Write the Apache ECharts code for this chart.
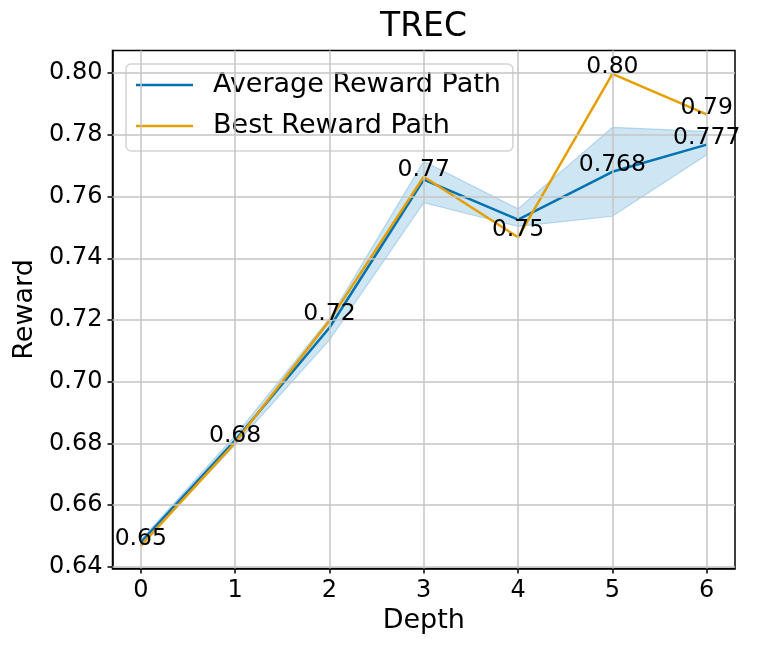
<!DOCTYPE html>
<html>
<head>
<meta charset="utf-8">
<script src="https://cdn.jsdelivr.net/npm/echarts@6/dist/echarts.min.js"></script>
<style>html,body{margin:0;padding:0;background:#fff}#c{width:761px;height:653px}</style>
</head>
<body>
<div id="c"></div>
<script>
var depths = [0, 1, 2, 3, 4, 5, 6];
var avgReward = [0.648, 0.681, 0.7175, 0.7655, 0.7525, 0.768, 0.7768];
var bestReward = [0.6468, 0.6803, 0.7198, 0.7664, 0.7468, 0.7997, 0.7866];
var bandUpper = [0.6488, 0.6825, 0.7205, 0.7714, 0.7560, 0.7824, 0.7811];
var bandLower = [0.6472, 0.6795, 0.7135, 0.7580, 0.7503, 0.7536, 0.7735];
var avgLabelDepths = [5, 6];
var xTicks = [0, 1, 2, 3, 4, 5, 6];
var yTicks = [0.64, 0.66, 0.68, 0.70, 0.72, 0.74, 0.76, 0.78, 0.80];

var FONT = 'DejaVu Sans';
function pairs(xs, ys) { return xs.map(function (x, i) { return [x, ys[i]]; }); }

var gridLines = xTicks.map(function (v) { return { xAxis: v }; })
  .concat(yTicks.map(function (v) { return { yAxis: v }; }));

var bestLabelData = depths.map(function (d, i) { return { value: [d, bestReward[i]], txt: bestReward[i].toFixed(2) }; });
var avgLabelData = avgLabelDepths.map(function (d) { var i = depths.indexOf(d); return { value: [d, avgReward[i]], txt: avgReward[i].toFixed(3) }; });

var labelCfg = {
  show: true, position: 'top', distance: 0, offset: [0, 5],
  fontFamily: FONT, fontSize: 23.5, color: '#000', opacity: 1, lineHeight: 24,
  formatter: function (p) { return p.data.txt; }
};

var bandData = depths.map(function (d, i) { return [d, bandLower[i], bandUpper[i]]; });

function renderBand(params, api) {
  if (params.dataIndex !== 0) return null;
  var pts = [];
  for (var i = 0; i < depths.length; i++) pts.push(api.coord([depths[i], bandUpper[i]]));
  for (var j = depths.length - 1; j >= 0; j--) pts.push(api.coord([depths[j], bandLower[j]]));
  return {
    type: 'polygon',
    shape: { points: pts },
    style: { fill: 'rgba(60,150,210,0.25)', stroke: 'rgba(60,150,210,0.3)', lineWidth: 1.2 },
    silent: true
  };
}

var chart = echarts.init(document.getElementById('c'), null, { renderer: 'canvas' });
chart.setOption({
  animation: false,
  backgroundColor: '#fff',
  title: {
    text: 'TREC', left: 380, top: 11, padding: 0,
    textStyle: { fontFamily: FONT, fontSize: 33, fontWeight: 'normal', color: '#000', lineHeight: 33 }
  },
  legend: {
    data: ['Average Reward Path', 'Best Reward Path'],
    orient: 'vertical', left: 126, top: 64,
    icon: 'rect', itemWidth: 57, itemHeight: 2.5, itemGap: 11,
    padding: [6, 12, 10, 10],
    backgroundColor: 'rgba(255,255,255,0.8)',
    borderColor: '#d4d4d4', borderWidth: 1.5, borderRadius: 5,
    textStyle: { fontFamily: FONT, fontSize: 27, color: '#000', lineHeight: 30, padding: [0, 0, 0, 15] }
  },
  grid: {
    left: 112.5, right: 26, top: 50.5, bottom: 84.5,
    show: true, borderColor: '#000', borderWidth: 1.5, backgroundColor: 'transparent',
    containLabel: false, outerBoundsMode: 'none'
  },
  xAxis: {
    type: 'value', min: -0.3, max: 6.3,
    name: 'Depth', nameLocation: 'middle', nameGap: 36,
    nameTextStyle: { fontFamily: FONT, fontSize: 27, color: '#000', lineHeight: 27 },
    axisLine: { show: true, onZero: false, lineStyle: { color: '#000', width: 1.5 } },
    axisTick: { show: true, customValues: xTicks, length: 5, lineStyle: { color: '#000', width: 1.5 } },
    axisLabel: { customValues: xTicks, margin: 10.5, fontFamily: FONT, fontSize: 24, color: '#000', lineHeight: 24,
      formatter: function (v) { return String(v); } },
    splitLine: { show: false }
  },
  yAxis: {
    type: 'value', min: 0.6395, max: 0.8073,
    name: 'Reward', nameLocation: 'middle', nameGap: 71, nameRotate: 90,
    nameTextStyle: { fontFamily: FONT, fontSize: 27, color: '#000', lineHeight: 27 },
    axisLine: { show: true, onZero: false, lineStyle: { color: '#000', width: 1.5 } },
    axisTick: { show: true, customValues: yTicks, length: 5, lineStyle: { color: '#000', width: 1.5 } },
    axisLabel: { customValues: yTicks, margin: 10, fontFamily: FONT, fontSize: 24, color: '#000', lineHeight: 24,
      formatter: function (v) { return v.toFixed(2); } },
    splitLine: { show: false }
  },
  series: [
    {
      name: 'band', type: 'custom', data: bandData, z: 1, silent: true,
      encode: { x: 0, y: [1, 2] },
      renderItem: renderBand
    },
    {
      name: 'gridlines', type: 'line', data: [[0, 0.7]], symbol: 'none', z: 2, silent: true,
      lineStyle: { width: 0, opacity: 0 },
      markLine: {
        silent: true, symbol: ['none', 'none'], label: { show: false }, animation: false,
        lineStyle: { color: '#c4c4c4', width: 1.5, type: 'solid' },
        emphasis: { disabled: true },
        data: gridLines
      }
    },
    {
      name: 'Average Reward Path', type: 'line', data: pairs(depths, avgReward),
      symbol: 'none', z: 3, color: '#0072B2',
      lineStyle: { color: '#0072B2', width: 2.5 }, itemStyle: { color: '#0072B2' }
    },
    {
      name: 'Best Reward Path', type: 'line', data: pairs(depths, bestReward),
      symbol: 'none', z: 4, color: '#E69F00',
      lineStyle: { color: '#E69F00', width: 2.5 }, itemStyle: { color: '#E69F00' }
    },
    {
      name: 'bestLabels', type: 'scatter', data: bestLabelData, symbolSize: 0, z: 5, silent: true,
      itemStyle: { opacity: 1 }, label: labelCfg
    },
    {
      name: 'avgLabels', type: 'scatter', data: avgLabelData, symbolSize: 0, z: 5, silent: true,
      itemStyle: { opacity: 1 }, label: labelCfg
    }
  ]
});
</script>
</body>
</html>
